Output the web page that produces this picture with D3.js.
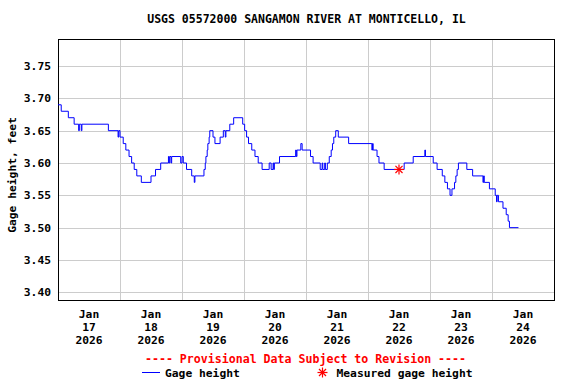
<html>
<head>
<style>
  body { margin: 0; background: #fff; }
  text { font-family: "DejaVu Sans Mono", monospace; font-weight: bold; }
</style>
</head>
<body>
<script src="https://d3js.org/d3.v7.min.js"></script>
<script>

// gage height readings, Jan 2026 (day hh:mm), step values in feet
var times = [
  "17 00:00","17 01:15","17 04:00","17 06:15","17 08:00","17 08:15","17 09:00","17 09:15","17 19:30","17 23:15","17 23:30",
  "18 00:00","18 01:15","18 02:15","18 03:30","18 04:30","18 05:30","18 06:30","18 08:15","18 12:00","18 13:45","18 15:45",
  "18 18:45","18 19:00","18 19:15","18 19:45","18 20:00","18 23:30",
  "19 00:00","19 00:30","19 01:45","19 03:45","19 04:45","19 05:00","19 08:30","19 09:00","19 09:15","19 09:45","19 10:00",
  "19 10:30","19 10:45","19 12:00","19 12:45","19 14:45","19 16:00","19 16:45","19 17:00","19 18:30","19 20:00","19 23:30",
  "20 00:15","20 01:00","20 01:45","20 03:00","20 04:15","20 05:30","20 07:00","20 09:45","20 10:30","20 11:15","20 11:30",
  "20 11:45","20 13:45","20 20:00","20 20:15","20 20:30","20 22:00","20 22:30",
  "21 01:45","21 02:45","21 05:30","21 06:15","21 06:30","21 07:15","21 07:30","21 08:15","21 09:00","21 09:45","21 10:15",
  "21 10:45","21 11:30","21 12:30","21 16:30",
  "22 01:30","22 01:45","22 02:00","22 03:30","22 04:15","22 06:15","22 14:00","22 17:30","22 22:00","22 22:15",
  "23 01:15","23 02:45","23 04:45","23 05:45","23 06:45","23 07:45","23 08:30","23 09:30","23 10:00","23 10:30","23 11:00",
  "23 14:15","23 16:30","23 20:30","23 20:45","23 21:00","23 23:00",
  "24 01:15","24 01:45","24 02:00","24 02:30","24 04:15","24 05:30","24 06:15","24 06:45","24 10:15"
];
var heights = [
  3.69,3.68,3.67,3.66,3.65,3.66,3.65,3.66,3.65,3.64,3.65,
  3.64,3.63,3.62,3.61,3.60,3.59,3.58,3.57,3.58,3.59,3.60,
  3.61,3.60,3.61,3.60,3.61,3.60,
  3.61,3.60,3.59,3.58,3.57,3.58,3.59,3.60,3.61,3.62,3.63,
  3.64,3.65,3.64,3.63,3.64,3.65,3.64,3.65,3.66,3.67,3.66,
  3.65,3.64,3.63,3.62,3.61,3.60,3.59,3.60,3.59,3.60,3.59,
  3.60,3.61,3.62,3.61,3.62,3.63,3.62,
  3.61,3.60,3.59,3.60,3.59,3.60,3.59,3.60,3.61,3.62,3.63,
  3.64,3.65,3.64,3.63,
  3.62,3.63,3.62,3.61,3.60,3.59,3.60,3.61,3.62,3.61,
  3.60,3.59,3.58,3.57,3.56,3.55,3.56,3.57,3.58,3.59,3.60,
  3.59,3.58,3.57,3.58,3.57,3.56,
  3.55,3.54,3.55,3.54,3.53,3.52,3.51,3.50,3.50
];

var measuredTime = ["22 12:00"],
    measuredHeight = [3.59];

var yTicks = [3.40, 3.45, 3.50, 3.55, 3.60, 3.65, 3.70, 3.75];
var dayLabels = ["17","18","19","20","21","22","23","24"];

var title = "USGS 05572000 SANGAMON RIVER AT MONTICELLO, IL";

var width = 576, height = 384;
var plotLeft = 58, plotRight = 554, plotTop = 39, plotBottom = 300;

var parse = d3.timeParse("%Y-%m-%d %H:%M");
function toDate(s) { return parse("2026-01-" + s); }

var data = times.map(function(t, i) { return { t: toDate(t), v: heights[i] }; });

var x = d3.scaleTime()
    .domain([new Date(2026, 0, 17), new Date(2026, 0, 25)])
    .range([plotLeft, plotRight]);

var y = d3.scaleLinear()
    .domain([3.40, 3.75])
    .range([292.3, 66]);

var svg = d3.select("body").append("svg")
    .attr("width", width)
    .attr("height", height);

// grid
var days = d3.timeDay.range(new Date(2026, 0, 18), new Date(2026, 0, 25));
svg.append("g").selectAll("line").data(days).join("line")
    .attr("x1", function(d) { return Math.round(x(d)) + 0.5; })
    .attr("x2", function(d) { return Math.round(x(d)) + 0.5; })
    .attr("y1", plotTop).attr("y2", plotBottom)
    .attr("stroke", "#cccccc");

svg.append("g").selectAll("line").data(yTicks).join("line")
    .attr("x1", plotLeft).attr("x2", plotRight)
    .attr("y1", function(d) { return Math.round(y(d)) + 0.5; })
    .attr("y2", function(d) { return Math.round(y(d)) + 0.5; })
    .attr("stroke", "#cccccc");

// frame
svg.append("rect")
    .attr("x", plotLeft + 0.5).attr("y", plotTop + 0.5)
    .attr("width", plotRight - plotLeft).attr("height", plotBottom - plotTop)
    .attr("fill", "none").attr("stroke", "#000");

// y tick labels
svg.append("g").selectAll("text").data(yTicks).join("text")
    .attr("x", 51)
    .attr("y", function(d) { return y(d) + 4; })
    .attr("text-anchor", "end")
    .style("font-size", "11.3px")
    .text(function(d) { return d3.format(".2f")(d); });

svg.append("text")
    .attr("transform", "translate(16,175) rotate(-90)")
    .attr("text-anchor", "middle")
    .style("font-size", "11.3px")
    .text("Gage height, feet");

// x labels at noon of each day
var xl = svg.append("g").selectAll("text").data(dayLabels).join("text")
    .attr("text-anchor", "middle")
    .style("font-size", "11.3px");
xl.each(function(d) {
  var cx = x(toDate(d + " 12:00"));
  var t = d3.select(this);
  ["Jan", d, "2026"].forEach(function(s, i) {
    t.append("tspan").attr("x", cx).attr("y", 318 + i * 13).text(s);
  });
});

// title
svg.append("text")
    .attr("x", (plotLeft + plotRight) / 2 + 0.5).attr("y", 23)
    .attr("text-anchor", "middle")
    .style("font-size", "11.5px")
    .text(title);

// gage height line
var line = d3.line()
    .x(function(d) { return x(d.t); })
    .y(function(d) { return y(d.v); })
    .curve(d3.curveStepAfter);

svg.append("path")
    .datum(data)
    .attr("d", line)
    .attr("fill", "none")
    .attr("stroke", "#0000ff")
    .attr("stroke-width", 1);

// measured gage height marker
function star(g, cx, cy, r) {
  for (var k = 0; k < 4; k++) {
    var a = k * Math.PI / 4;
    g.append("line")
      .attr("x1", cx - r * Math.cos(a)).attr("y1", cy - r * Math.sin(a))
      .attr("x2", cx + r * Math.cos(a)).attr("y2", cy + r * Math.sin(a))
      .attr("stroke", "#ff0000").attr("stroke-width", 1.2);
  }
}
measuredTime.forEach(function(t, i) {
  star(svg.append("g"), x(toDate(t)), y(measuredHeight[i]), 5);
});

// provisional note
svg.append("text")
    .attr("x", 305.5).attr("y", 363)
    .attr("text-anchor", "middle")
    .attr("fill", "#ff0000")
    .style("font-size", "11.6px")
    .text("---- Provisional Data Subject to Revision ----");

// legend
svg.append("line")
    .attr("x1", 142).attr("x2", 160)
    .attr("y1", 372.5).attr("y2", 372.5)
    .attr("stroke", "#0000ff");
svg.append("text")
    .attr("x", 165).attr("y", 377)
    .style("font-size", "11.3px")
    .text("Gage height");
star(svg.append("g"), 322.5, 372.5, 5);
svg.append("text")
    .attr("x", 336.5).attr("y", 377)
    .style("font-size", "11.3px")
    .text("Measured gage height");

</script>
</body>
</html>
